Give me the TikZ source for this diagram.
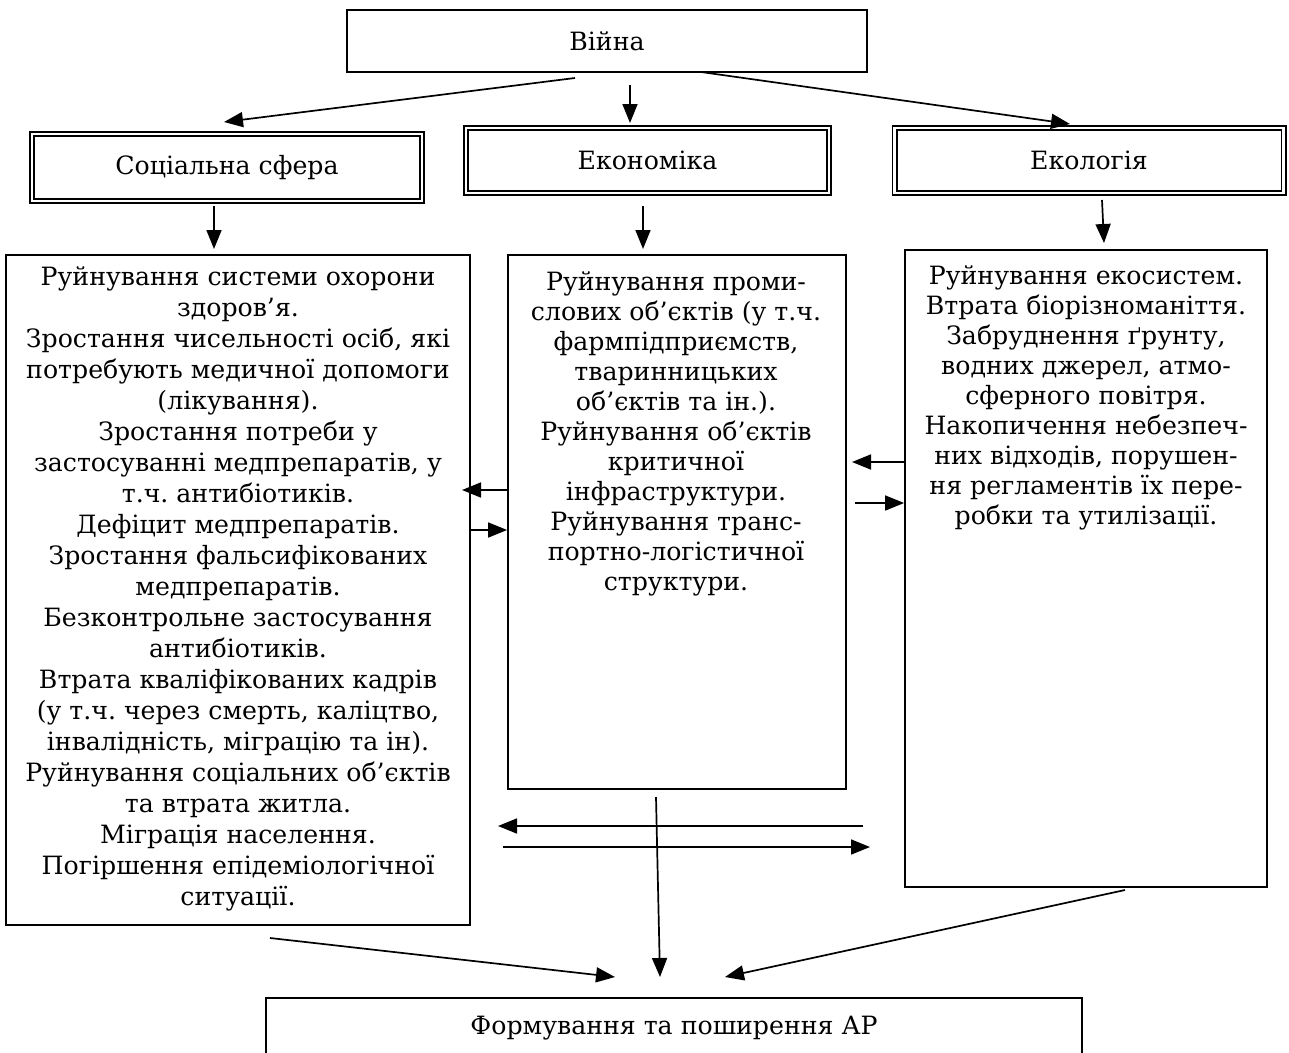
\documentclass[tikz,border=0pt]{standalone}
\usepackage{fontspec}
\setmainfont{DejaVu Serif}
\usetikzlibrary{arrows.meta}
\frenchspacing
\tikzset{
  box/.style={draw, line width=1.8pt, inner sep=0pt},
  dbox/.style={draw, double, double distance=2.4pt, line width=1.8pt, inner sep=0pt},
  arr/.style={line width=1.7pt, -{Triangle[length=19pt,width=15pt]}},
  txt/.style={align=center, font=\fontsize{25.2}{31}\selectfont, inner sep=0pt},
  txtb/.style={align=center, font=\fontsize{25.2}{30}\selectfont, inner sep=0pt}
}
\begin{document}
\begin{tikzpicture}[x=1pt,y=-1pt]
\useasboundingbox (0,0) rectangle (1289,1052);
% boxes
\node[box, minimum width=520pt, minimum height=62pt] (war) at (607,41) {};
\node[txt] (wart) at (war.center) {Війна};
\node[dbox, minimum width=390pt, minimum height=67pt] (soc) at (227,167.5) {};
\node[txt] (soct) at (soc.center) {Соціальна сфера};
\node[dbox, minimum width=363pt, minimum height=65pt] (eco) at (647.5,160.5) {};
\node[txt] (ecot) at (eco.center) {Економіка};
\node[dbox, minimum width=389pt, minimum height=65pt] (ecl) at (1089,160.5) {};
\node[txt] (eclt) at (ecl.center) {Екологія};
\node[box, minimum width=464pt, minimum height=670pt] (lbox) at (238,590) {};
\node[box, minimum width=338pt, minimum height=534pt] (mbox) at (677,522) {};
\node[box, minimum width=362pt, minimum height=637pt] (rbox) at (1086,568.5) {};
\node[box, minimum width=816pt, minimum height=102pt] (bbox) at (674,1049) {};
\node[txt, anchor=base] (bboxt) at (674,1034) {Формування та поширення АР};
% box texts
\node[txt, anchor=north] (lt) at (238,266) {Руйнування системи охорони\\
здоров’я.\\
Зростання чисельності осіб, які\\
потребують медичної допомоги\\
(лікування).\\
Зростання потреби у\\
застосуванні медпрепаратів, у\\
т.ч. антибіотиків.\\
Дефіцит медпрепаратів.\\
Зростання фальсифікованих\\
медпрепаратів.\\
Безконтрольне застосування\\
антибіотиків.\\
Втрата кваліфікованих кадрів\\
(у т.ч. через смерть, каліцтво,\\
інвалідність, міграцію та ін).\\
Руйнування соціальних об’єктів\\
та втрата житла.\\
Міграція населення.\\
Погіршення епідеміологічної\\
ситуації.};
\node[txtb, anchor=north] (mt) at (676,271) {Руйнування проми-\\
слових об’єктів (у т.ч.\\
фармпідприємств,\\
тваринницьких\\
об’єктів та ін.).\\
Руйнування об’єктів\\
критичної\\
інфраструктури.\\
Руйнування транс-\\
портно-логістичної\\
структури.};
\node[txtb, anchor=north] (rt) at (1086,265) {Руйнування екосистем.\\
Втрата біорізноманіття.\\
Забруднення ґрунту,\\
водних джерел, атмо-\\
сферного повітря.\\
Накопичення небезпеч-\\
них відходів, порушен-\\
ня регламентів їх пере-\\
робки та утилізації.};
% coordinates
\coordinate (a1s) at (575,78);   \coordinate (a1e) at (224,122);
\coordinate (a2s) at (630,85);   \coordinate (a2e) at (630,123);
\coordinate (a3s) at (701,72);   \coordinate (a3e) at (1070,124);
\coordinate (b1s) at (214,206);  \coordinate (b1e) at (214,249);
\coordinate (b2s) at (643,206);  \coordinate (b2e) at (643,249);
\coordinate (b3s) at (1102,200); \coordinate (b3e) at (1104,243);
\coordinate (h1e) at (462,490);  \coordinate (h2s) at (470,530);
\coordinate (h3e) at (852,462);  \coordinate (h4s) at (855,503);
\coordinate (l1s) at (863,826);  \coordinate (l1e) at (498,826);
\coordinate (l2s) at (503,847);  \coordinate (l2e) at (870,847);
\coordinate (d1s) at (270,938);  \coordinate (d1e) at (615,977);
\coordinate (d2s) at (656,797);  \coordinate (d2e) at (660,977);
\coordinate (d3s) at (1125,890); \coordinate (d3e) at (725,977);
% arrows
\draw[arr] (a1s) -- (a1e);
\draw[arr] (a2s) -- (a2e);
\draw[arr] (a3s) -- (a3e);
\draw[arr] (b1s) -- (b1e);
\draw[arr] (b2s) -- (b2e);
\draw[arr] (b3s) -- (b3e);
\draw[arr] (mbox.west |- h1e) -- (h1e);
\draw[arr] (h2s) -- (mbox.west |- h2s);
\draw[arr] (rbox.west |- h3e) -- (h3e);
\draw[arr] (h4s) -- (rbox.west |- h4s);
\draw[arr] (l1s) -- (l1e);
\draw[arr] (l2s) -- (l2e);
\draw[arr] (d1s) -- (d1e);
\draw[arr] (d2s) -- (d2e);
\draw[arr] (d3s) -- (d3e);
\end{tikzpicture}
\end{document}
